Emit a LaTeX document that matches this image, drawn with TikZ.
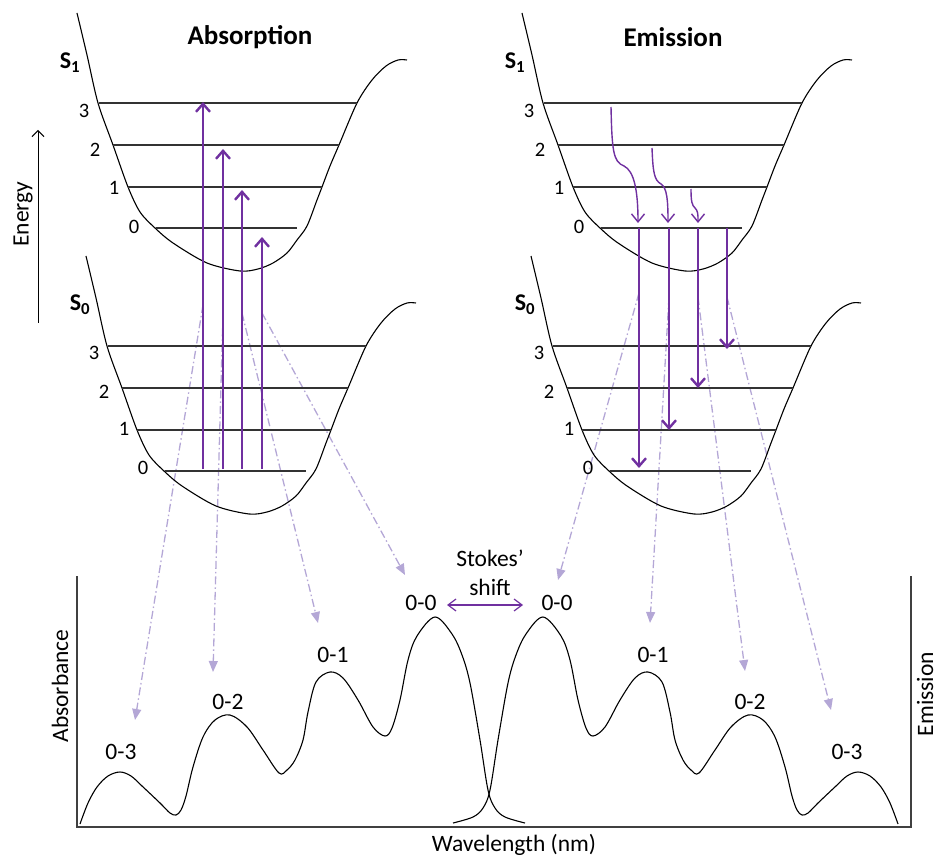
\documentclass[tikz,border=0pt]{standalone}
\usepackage{fontspec}
\setmainfont{Carlito}
\usetikzlibrary{arrows.meta}
\definecolor{vio}{RGB}{112,48,160}
\definecolor{lav}{RGB}{180,167,214}
\newcommand\pkfont{\fontsize{23.5}{27}\selectfont}
\newcommand\lvfont{\fontsize{20.5}{24}\selectfont}
\newcommand\wellpath{plot[smooth,tension=0.5] coordinates {(77,13) (87,55) (98,103) (113,145) (128,187) (140,212) (155,228) (173,243) (207,263) (240,271) (258,269) (273,263) (287,253) (297,240) (307,226) (317,200) (322,187) (330,166) (339,145) (357,103) (372,80) (386,66) (398,60) (407,60)}}
\begin{document}
\begin{tikzpicture}[x=1pt,y=-1pt,
  well/.style={line width=1.1pt,black},
  lvl/.style={line width=1.2pt,black!80},
  exc/.style={vio,line width=2.4pt,-{Straight Barb[length=8pt,width=14pt]}},
  emi/.style={vio,line width=2.4pt,-{Straight Barb[length=8pt,width=14pt]}},
  relax/.style={vio,line width=1.4pt,-{Straight Barb[length=8pt,width=13pt]}},
  proj/.style={lav,line width=1.3pt,dash pattern=on 8pt off 3pt on 1.5pt off 3pt,-{Triangle[length=11pt,width=9pt]}},
  axis/.style={line width=1.5pt,black!75},
  spec/.style={line width=1.1pt,black},
  lvnum/.style={font=\lvfont,inner sep=0pt},
  pk/.style={font=\pkfont,inner sep=0pt},
  st/.style={font=\fontsize{24}{27}\selectfont\bfseries,inner sep=0pt},
  ttl/.style={font=\fontsize{27}{31}\selectfont\bfseries,inner sep=0pt},
  side/.style={font=\fontsize{23.5}{27}\selectfont,inner sep=0pt}
]
\useasboundingbox (0,0) rectangle (939,858);

% ---------- projection lines (behind) ----------
\coordinate (pa1) at (203,305); \coordinate (ta1) at (135,720);
\coordinate (pa2) at (223,313); \coordinate (ta2) at (213,672);
\coordinate (pa3) at (242,313); \coordinate (ta3) at (318,623);
\coordinate (pa4) at (262,313); \coordinate (ta4) at (405,575);
\coordinate (pe1) at (639,293); \coordinate (te1) at (558,580);
\coordinate (pe2) at (669,297); \coordinate (te2) at (650,623);
\coordinate (pe3) at (698,297); \coordinate (te3) at (745,671);
\coordinate (pe4) at (727,297); \coordinate (te4) at (831,710);
\foreach \i in {1,2,3,4} {
  \draw[proj] (pa\i) -- (ta\i);
  \draw[proj] (pe\i) -- (te\i);
}

% ---------- wells ----------
\foreach \dx/\nm in {0/a,445/e} {
  \begin{scope}[shift={(\dx,0)}]
    \draw[well] \wellpath;
    \draw[lvl] (99,103) -- (357,103);
    \draw[lvl] (113,145) -- (339,145);
    \draw[lvl] (128,187) -- (322,187);
    \draw[lvl] (156,228) -- (297,228);
    \node[lvnum] (\nm u3) at (84,111) {3};
    \node[lvnum] (\nm u2) at (95,150) {2};
    \node[lvnum] (\nm u1) at (114,188) {1};
    \node[lvnum] (\nm u0) at (134,227) {0};
    \node[st] (\nm S1) at (70,63) {S\textsubscript{1}};
  \end{scope}
  \begin{scope}[shift={(\dx+9,243)}]
    \draw[well] \wellpath;
    \draw[lvl] (99,103) -- (357,103);
    \draw[lvl] (113,145) -- (339,145);
    \draw[lvl] (128,187) -- (322,187);
    \draw[lvl] (156,228) -- (297,228);
  \end{scope}
  \begin{scope}[shift={(\dx,0)}]
    \node[lvnum] (\nm l3) at (94,353) {3};
    \node[lvnum] (\nm l2) at (104,392) {2};
    \node[lvnum] (\nm l1) at (124,429) {1};
    \node[lvnum] (\nm l0) at (143,468) {0};
    \node[st] (\nm S0) at (80,305) {S\textsubscript{0}};
  \end{scope}
}

\node[ttl] (tabs) at (250,37) {Absorption};
\node[ttl] (temi) at (673,37) {Emission};

% ---------- energy axis ----------
\coordinate (en0) at (38,323); \coordinate (en1) at (38,130);
\draw[line width=1pt,-{Straight Barb[length=6pt,width=12pt]}] (en0) -- (en1);
\node[side,rotate=90] (energy) at (23,214) {Energy};

% ---------- absorption arrows ----------
\foreach \x/\t [count=\i] in {203/102,223/149,242/190,262/237} {
  \coordinate (ab\i) at (\x,469);
  \coordinate (at\i) at (\x,\t);
  \draw[exc] (ab\i) -- (at\i);
}

% ---------- emission arrows ----------
\foreach \x/\t [count=\i] in {639/468,669/430,698/388,727/349} {
  \coordinate (es\i) at (\x,228);
  \coordinate (ee\i) at (\x,\t);
  \draw[emi] (es\i) -- (ee\i);
}

% ---------- relaxation arrows ----------
\coordinate (r1s) at (611,107); \coordinate (r1e) at (638,223);
\coordinate (r2s) at (652,148); \coordinate (r2e) at (668,223);
\coordinate (r3s) at (691,189); \coordinate (r3e) at (698,223);
\draw[relax] (r1s) .. controls (612,150) and (613,162) .. (624,166) .. controls (634,171) and (638,190) .. (r1e);
\draw[relax] (r2s) .. controls (653,172) and (654,180) .. (661,184) .. controls (667,188) and (668,200) .. (r2e);
\draw[relax] (r3s) .. controls (691,202) and (692,205) .. (695,208) .. controls (698,211) and (698,214) .. (r3e);

% ---------- spectrum axes ----------
\coordinate (ax0) at (77,576); \coordinate (ax1) at (77,827);
\coordinate (ax2) at (911,827); \coordinate (ax3) at (911,576);
\draw[axis] (ax0) -- (ax1) -- (ax2) -- (ax3);
\node[side,rotate=90] (absb) at (60,686) {Absorbance};
\node[side,rotate=90] (emsb) at (925,694) {Emission};
\node[side] (wl) at (514,845) {Wavelength (nm)};

% ---------- spectra ----------
\draw[spec] plot[smooth,tension=0.55] coordinates {(80,824) (88,803) (97,787) (108,776) (120,772) (131,776) (142,786) (160,803) (170,813) (176,815) (181,810) (186,796) (193,767) (203,737) (215,720) (230,715) (247,727) (263,750) (279,773) (287,770) (295,760) (303,740) (308,712) (316,682) (330,672) (343,678) (358,700) (373,727) (385,736) (392,728) (400,700) (408,660) (417,636) (435,617) (452,634) (462,655) (470,683) (480,740) (488,790) (495,808) (505,817) (525,823)};
\draw[spec] plot[smooth,tension=0.55] coordinates {(898,824) (890,803) (881,787) (870,776) (858,772) (847,776) (836,786) (818,803) (808,813) (802,815) (797,810) (792,796) (785,767) (775,737) (763,720) (748,715) (731,727) (715,750) (699,773) (691,770) (683,760) (675,740) (670,712) (662,682) (648,672) (635,678) (620,700) (605,727) (593,736) (586,728) (578,700) (570,660) (561,636) (543,617) (526,634) (516,655) (508,683) (498,740) (490,790) (483,808) (473,817) (453,823)};

% ---------- peak labels ----------
\node[pk] (a03) at (121,752) {0-3};
\node[pk] (a02) at (228,702) {0-2};
\node[pk] (a01) at (333,655) {0-1};
\node[pk] (a00) at (421,603) {0-0};
\node[pk] (e00) at (557,603) {0-0};
\node[pk] (e01) at (653,655) {0-1};
\node[pk] (e02) at (750,702) {0-2};
\node[pk] (e03) at (847,752) {0-3};

% ---------- Stokes shift ----------
\node[pk] (stk) at (490,558) {Stokes’};
\node[pk] (shf) at (490,587) {shift};
\coordinate (ss0) at (447,605); \coordinate (ss1) at (523,605);
\draw[vio,line width=1.2pt,{Straight Barb[length=8pt,width=12pt]}-{Straight Barb[length=8pt,width=12pt]}] (ss0) -- (ss1);
\end{tikzpicture}
\end{document}
